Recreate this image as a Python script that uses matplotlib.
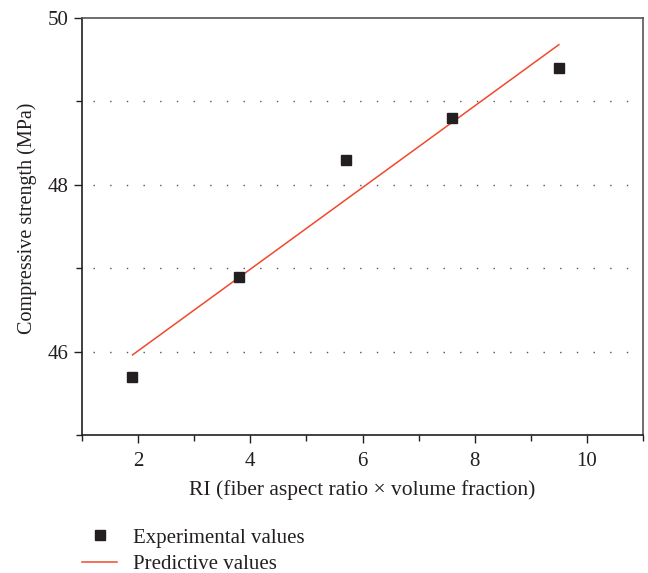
import matplotlib
matplotlib.use("Agg")
import matplotlib.pyplot as plt
from matplotlib.ticker import MultipleLocator

# Data
ri = [1.9, 3.8, 5.7, 7.6, 9.5]
experimental = [45.7, 46.9, 48.3, 48.8, 49.4]
pred_x = [1.9, 9.5]
predictive = [45.96, 49.68]

plt.rcParams['font.family'] = ['Liberation Serif', 'DejaVu Serif']

W, H = 648, 573
fig = plt.figure(figsize=(W / 100, H / 100), dpi=100)
ax = fig.add_axes([82 / W, (H - 435) / H, (643 - 82) / W, (435 - 18) / H])

for y in [46, 47, 48, 49]:
    ax.axhline(y, xmin=0.02, xmax=0.98, color='#555555', linewidth=1.0,
               linestyle=(0, (1, 11)), zorder=1)

ax.plot(ri, experimental, linestyle='none', marker='s', markersize=7.5,
        color='#231f20', label='Experimental values', zorder=3)
ax.plot(pred_x, predictive, color='#f0492b', linewidth=1.1,
        label='Predictive values', zorder=2)

ax.set_xlim(1, 11)
ax.set_ylim(45, 50)
ax.xaxis.set_major_locator(MultipleLocator(2))
ax.xaxis.set_minor_locator(MultipleLocator(1))
ax.yaxis.set_major_locator(MultipleLocator(2))
ax.yaxis.set_minor_locator(MultipleLocator(1))
ax.set_yticks([46, 48, 50])
ax.tick_params(which='both', direction='out', colors='#231f20', labelsize=15)
ax.tick_params(which='major', length=6, width=1)
ax.tick_params(which='minor', length=4, width=1)
ax.tick_params(axis='x', pad=6)

for s in ['left', 'bottom']:
    ax.spines[s].set_color('#231f20')
    ax.spines[s].set_linewidth(1.2)
for s in ['top', 'right']:
    ax.spines[s].set_color('#555555')
    ax.spines[s].set_linewidth(1.2)

ax.set_xlabel('RI (fiber aspect ratio \u00d7 volume fraction)', fontsize=15.5,
              color='#231f20', labelpad=7)
ax.set_ylabel('Compressive strength (MPa)', fontsize=14.5, color='#231f20')
ax.yaxis.set_label_coords(-0.081, 0.52)

leg = ax.legend(loc='upper left', bbox_to_anchor=(82 / W, 1 - 528 / H),
                bbox_transform=fig.transFigure, frameon=False, fontsize=15,
                handlelength=1.7, handletextpad=0.75, labelspacing=0.32,
                borderpad=0, borderaxespad=0, labelcolor='#231f20')

fig.savefig('out.png', dpi=100)
